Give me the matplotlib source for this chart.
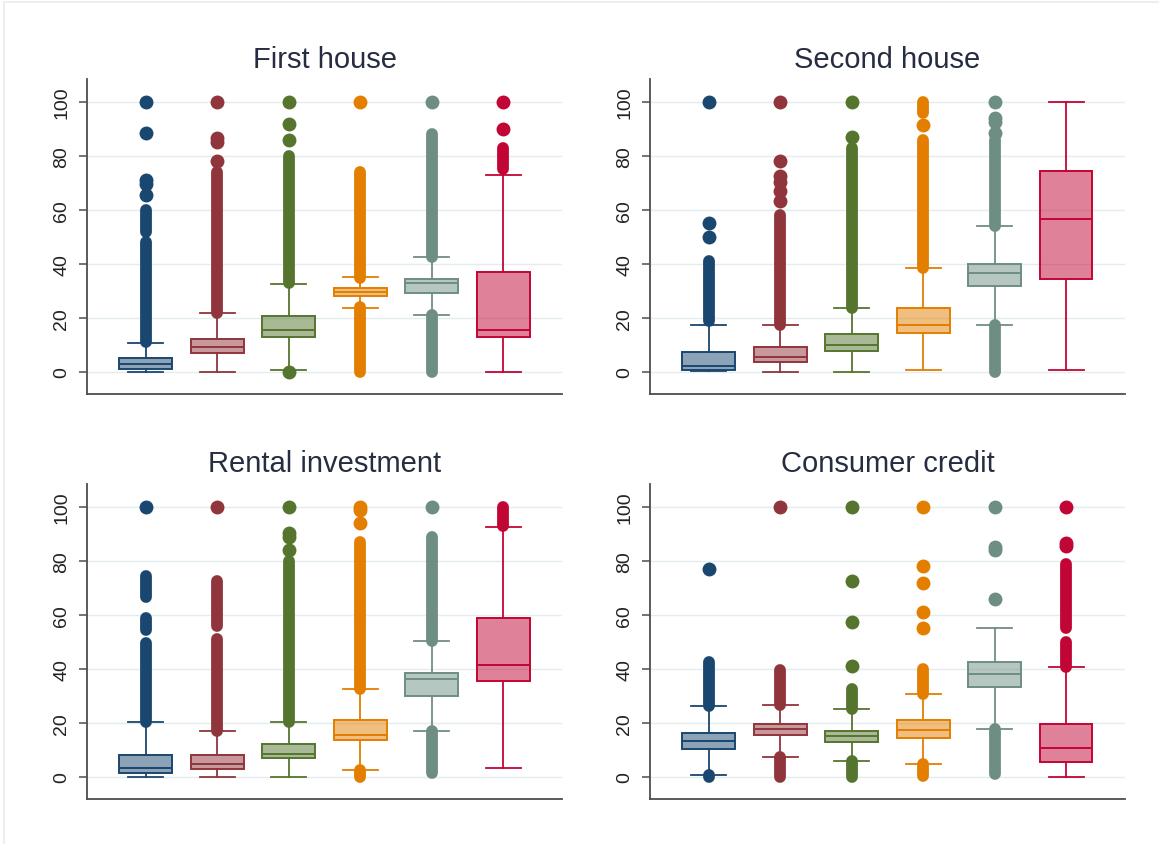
import numpy as np
import matplotlib
matplotlib.use("Agg")
import matplotlib.pyplot as plt
import matplotlib.patches as mpatches

plt.rcParams['font.family'] = ['Liberation Sans', 'DejaVu Sans']

# Stata s2color palette: navy, maroon, forest green, dark orange, teal, cranberry
colors = ['#1a476f', '#90353b', '#55752f', '#e37e00', '#6e8e84', '#c10534']
titles = ['First house', 'Second house', 'Rental investment', 'Consumer credit']
positions = [1, 2, 3, 4, 5, 6]

# box stats per panel: whisker low, q1, median, q3, whisker high
first_lo = [0, 0, 0.8, 23.8, 21.1, 0]
first_q1 = [1.2, 7.2, 12.8, 28.3, 29.2, 12.8]
first_med = [3.1, 9.1, 15.5, 29.5, 32.9, 15.5]
first_q3 = [5.1, 12.4, 20.6, 31.0, 34.5, 37.0]
first_hi = [10.7, 22.0, 32.6, 35.1, 42.5, 73.0]

second_lo = [0.4, 0, 0, 0.8, 17.4, 0.8]
second_q1 = [0.7, 3.7, 7.8, 14.4, 31.8, 34.5]
second_med = [2.2, 5.7, 9.9, 17.4, 36.8, 56.6]
second_q3 = [7.4, 9.1, 14.0, 23.8, 40.0, 74.4]
second_hi = [17.4, 17.4, 23.6, 38.5, 54.0, 100]

rental_lo = [0, 0, 0, 2.5, 17.0, 3.3]
rental_q1 = [1.5, 3.1, 7.0, 13.5, 29.9, 35.7]
rental_med = [3.3, 4.9, 8.6, 15.6, 36.1, 41.5]
rental_q3 = [8.3, 8.3, 12.3, 21.2, 38.4, 58.7]
rental_hi = [20.3, 17.0, 20.3, 32.6, 50.5, 92.7]

credit_lo = [0.9, 7.4, 5.8, 4.9, 17.9, 0]
credit_q1 = [10.5, 15.4, 12.9, 14.4, 33.3, 5.5]
credit_med = [13.2, 17.6, 15.0, 17.5, 38.2, 10.7]
credit_q3 = [16.4, 19.7, 17.2, 21.2, 42.5, 19.5]
credit_hi = [26.1, 26.8, 25.2, 30.8, 55.3, 40.6]

# outliers: dense runs of points (low, high) and single points
first_runs = [[(11, 48), (52, 60)], [(22, 74)], [(33, 80)], [(0, 24), (35, 74)],
              [(0, 21), (42.5, 88)], [(75, 83)]]
first_points = [[65.5, 69.5, 71, 88.5, 100], [78, 85, 86.5, 100], [0, 86, 92, 100],
                [100], [100], [90, 100]]

second_runs = [[(19, 41)], [(17.4, 58)], [(23.6, 83)], [(38.5, 86), (96, 100)],
               [(0, 17.4), (54, 86)], []]
second_points = [[50, 55, 100], [63.5, 67, 70.5, 72.5, 78, 100], [87, 100], [91.5],
                 [88.5, 92.5, 94, 100], []]

rental_runs = [[(20.3, 49.5), (54.5, 59), (66.5, 74.5)], [(17, 51), (56, 72.5)],
               [(20.3, 80)], [(0, 2.5), (32.6, 87)], [(1.5, 17), (50.5, 89)], [(93, 100)]]
rental_points = [[100], [100], [84, 89, 90.5, 100], [94, 99, 100], [100], []]

credit_runs = [[(0, 0.9), (26.1, 42.5)], [(0, 7.4), (26.8, 39.5)], [(0, 5.8), (25.2, 32.5)],
               [(0.5, 4.9), (30.8, 40)], [(1, 17.9)], [(40.6, 50), (55, 79)]]
credit_points = [[77], [100], [41, 57.5, 72.5, 100], [55, 61, 72, 78, 100],
                 [66, 84, 85, 100], [85.5, 86.5, 100]]

panels = [
    (first_lo, first_q1, first_med, first_q3, first_hi, first_runs, first_points),
    (second_lo, second_q1, second_med, second_q3, second_hi, second_runs, second_points),
    (rental_lo, rental_q1, rental_med, rental_q3, rental_hi, rental_runs, rental_points),
    (credit_lo, credit_q1, credit_med, credit_q3, credit_hi, credit_runs, credit_points),
]

fig = plt.figure(figsize=(11.59, 8.45), dpi=100)
# faint outer frame like the Stata graph region
fig.patches.append(mpatches.Rectangle((0.0035, -0.01), 1.1, 1.0065, transform=fig.transFigure,
                                      fill=False, ec='#ebebeb', lw=1.2))

rects = [[0.0751, 0.5325, 0.4098, 0.3728], [0.5608, 0.5325, 0.4098, 0.3728],
         [0.0751, 0.0533, 0.4098, 0.3728], [0.5608, 0.0533, 0.4098, 0.3728]]

for rect, title, (lo, q1, med, q3, hi, runs, pts) in zip(rects, titles, panels):
    ax = fig.add_axes(rect)
    ax.set_xlim(0.176, 6.824)
    ax.set_ylim(-8.15, 108.5)
    for y in range(0, 101, 20):
        ax.axhline(y, color='#e3ecef', lw=1.0, zorder=0)

    for i, pos in enumerate(positions):
        c = colors[i]
        stats = [dict(whislo=lo[i], q1=q1[i], med=med[i], q3=q3[i], whishi=hi[i])]
        ax.bxp(stats, positions=[pos], widths=0.74, capwidths=0.49, patch_artist=True,
               showfliers=False, manage_ticks=False,
               boxprops=dict(facecolor=matplotlib.colors.to_rgba(c, 0.5), edgecolor=c, lw=1.4),
               medianprops=dict(color=c, lw=1.4),
               whiskerprops=dict(color=c, lw=1.3),
               capprops=dict(color=c, lw=1.3))
        for a, b in runs[i]:
            lc = ax.vlines(pos, a, b, color=c, lw=8.5, zorder=3)
            lc.set_capstyle('round')
        if pts[i]:
            ax.plot([pos] * len(pts[i]), pts[i], 'o', color=c, ms=9, mec=c, zorder=3)

    ax.set_title(title, fontsize=21, color='#262d40', pad=9)
    ax.set_yticks([0, 20, 40, 60, 80, 100])
    ax.set_xticks([])
    ax.tick_params(axis='y', direction='out', length=6, width=1.1, color='#4d4d4d',
                   labelsize=14, labelcolor='#222222', labelrotation=90, pad=6)
    for lab in ax.get_yticklabels():
        lab.set_va('center')
    for s in ['top', 'right']:
        ax.spines[s].set_visible(False)
    for s in ['left', 'bottom']:
        ax.spines[s].set_color('#4d4d4d')
        ax.spines[s].set_linewidth(1.3)

fig.savefig('out.png', dpi=100, facecolor='white')
